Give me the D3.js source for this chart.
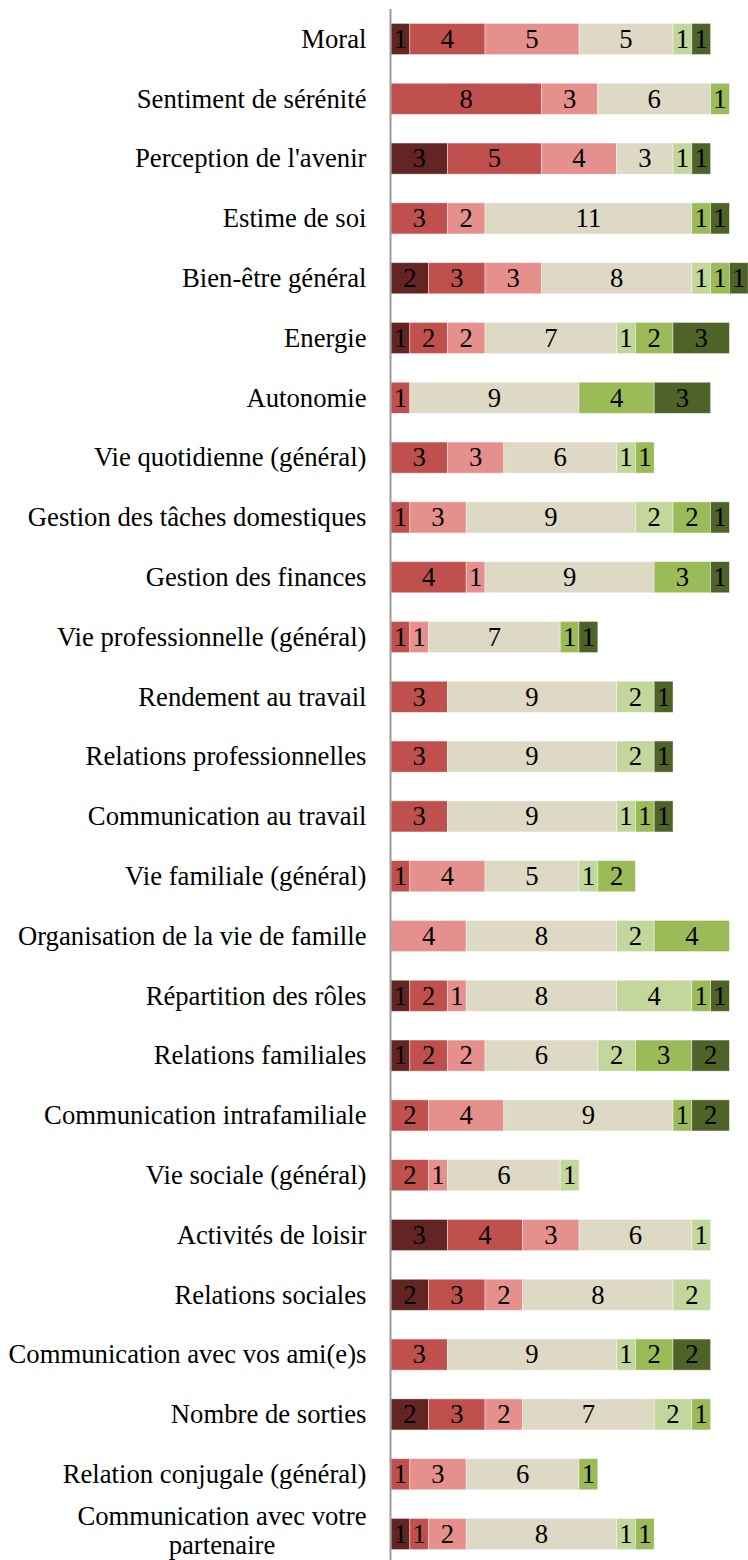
<!DOCTYPE html>
<html>
<head>
<meta charset="utf-8">
<script src="https://cdn.jsdelivr.net/npm/d3@7/dist/d3.min.js"></script>
<style>
  html, body { margin: 0; padding: 0; background: #fff; }
  svg { display: block; }
</style>
</head>
<body>
<div id="chart"></div>
<script>
// Item labels, top to bottom
const categories = [
  "Moral",
  "Sentiment de sérénité",
  "Perception de l'avenir",
  "Estime de soi",
  "Bien-être général",
  "Energie",
  "Autonomie",
  "Vie quotidienne (général)",
  "Gestion des tâches domestiques",
  "Gestion des finances",
  "Vie professionnelle (général)",
  "Rendement au travail",
  "Relations professionnelles",
  "Communication au travail",
  "Vie familiale (général)",
  "Organisation de la vie de famille",
  "Répartition des rôles",
  "Relations familiales",
  "Communication intrafamiliale",
  "Vie sociale (général)",
  "Activités de loisir",
  "Relations sociales",
  "Communication avec vos ami(e)s",
  "Nombre de sorties",
  "Relation conjugale (général)",
  "Communication avec votre partenaire"
];

// Response counts per scale level (from most negative to most positive)
const level1 = [1,0,3,0,2,1,0,0,0,0,0,0,0,0,0,0,1,1,0,0,3,2,0,2,0,1];
const level2 = [4,8,5,3,3,2,1,3,1,4,1,3,3,3,1,0,2,2,2,2,4,3,3,3,1,1];
const level3 = [5,3,4,2,3,2,0,3,3,1,1,0,0,0,4,4,1,2,4,1,3,2,0,2,3,2];
const level4 = [5,6,3,11,8,7,9,6,9,9,7,9,9,9,5,8,8,6,9,6,6,8,9,7,6,8];
const level5 = [1,0,1,0,1,1,0,1,2,0,0,2,2,1,1,2,4,2,0,1,1,2,1,2,0,1];
const level6 = [0,1,0,1,1,2,4,1,2,3,1,0,0,1,2,4,1,3,1,0,0,0,2,1,1,1];
const level7 = [1,0,1,1,1,3,3,0,1,1,1,1,1,1,0,0,1,2,2,0,0,0,2,0,0,0];

const seriesKeys = ["l1","l2","l3","l4","l5","l6","l7"];
const seriesColors = ["#632523","#C0504D","#E6908E","#DDD9C4","#C3D69B","#9BBB59","#4F6228"];
const levels = [level1, level2, level3, level4, level5, level6, level7];

const rows = categories.map((c, i) => {
  const r = { name: c };
  seriesKeys.forEach((k, j) => { r[k] = levels[j][i]; });
  return r;
});

const W = 748, H = 1560;
const axisX = 390.5;
const fontSize = 26.7;
const svg = d3.select("#chart").append("svg")
  .attr("width", W).attr("height", H);

const x = d3.scaleLinear().domain([0, 19]).range([391, 748.2]);
const y = d3.scaleBand().domain(categories).range([9.1, 9.1 + 59.8 * categories.length])
  .paddingInner(0.48).paddingOuter(0.24);

const stack = d3.stack().keys(seriesKeys);
const stacked = stack(rows);
const color = d3.scaleOrdinal().domain(seriesKeys).range(seriesColors);

const font = "'Liberation Serif', 'Times New Roman', serif";

const groups = svg.append("g").selectAll("g")
  .data(stacked).join("g")
  .attr("fill", d => color(d.key));

groups.selectAll("rect")
  .data(d => d.filter(s => s[1] - s[0] > 0))
  .join("rect")
  .attr("x", d => x(d[0]))
  .attr("y", d => y(d.data.name))
  .attr("width", d => x(d[1]) - x(d[0]))
  .attr("height", y.bandwidth())
  .attr("stroke", "#ffffff")
  .attr("stroke-opacity", 0.5)
  .attr("stroke-width", 0.8);

// value labels inside segments
groups.selectAll("text")
  .data(d => d.filter(s => s[1] - s[0] > 0))
  .join("text")
  .attr("x", d => (x(d[0]) + x(d[1])) / 2)
  .attr("y", d => y(d.data.name) + y.bandwidth() / 2)
  .attr("dy", "0.33em")
  .attr("text-anchor", "middle")
  .attr("font-family", font)
  .attr("font-size", fontSize)
  .attr("fill", "#000")
  .text(d => d[1] - d[0]);

// category axis on the left
const axis = d3.axisLeft(y).tickSize(0).tickPadding(24);
const axisG = svg.append("g")
  .attr("transform", `translate(${axisX},0)`)
  .call(axis);
axisG.select(".domain").remove();
axisG.selectAll("text")
  .attr("font-family", font)
  .attr("font-size", fontSize)
  .attr("dy", "0.33em")
  .attr("fill", "#000");

// wrap the long last label on two centred lines
axisG.selectAll(".tick text").each(function(d) {
  const t = d3.select(this);
  if (d === "Communication avec votre partenaire") {
    const lines = ["Communication avec votre", "partenaire"];
    t.text(null);
    const probe = t.append("tspan").text(lines[0]);
    const wLong = probe.node().getComputedTextLength();
    probe.remove();
    const cx = -24 - wLong / 2;
    t.attr("text-anchor", "middle").attr("x", cx).attr("dy", null);
    lines.forEach((ln, i) => {
      t.append("tspan").attr("x", cx)
        .attr("dy", i === 0 ? "-0.33em" : "1.06em")
        .text(ln);
    });
  }
});

// vertical axis line
svg.append("line")
  .attr("x1", axisX).attr("x2", axisX)
  .attr("y1", 9).attr("y2", H)
  .attr("stroke", "#9a9a9a")
  .attr("stroke-width", 2);
</script>
</body>
</html>
